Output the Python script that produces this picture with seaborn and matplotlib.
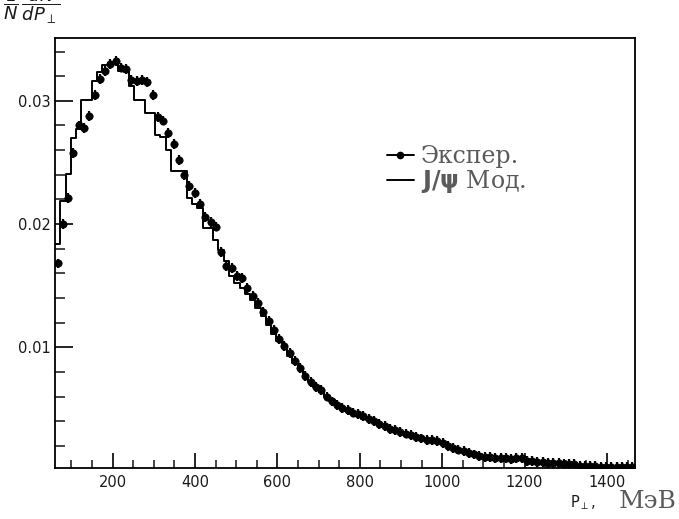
import numpy as np
import pandas as pd
import matplotlib
matplotlib.use("Agg")
import matplotlib.pyplot as plt
import seaborn as sns
from matplotlib.ticker import MultipleLocator, FixedFormatter, FixedLocator
from matplotlib.lines import Line2D

# ---------------- data ----------------
x_lo, x_hi = 60.0, 1468.0
n_bins = 110

exp_values = [
    0.0168, 0.0200, 0.0221, 0.0258, 0.0280, 0.0278, 0.0288, 0.0305, 0.0318, 0.0324,
    0.0330, 0.0332, 0.0327, 0.0326, 0.0317, 0.0316, 0.0317, 0.0315, 0.0305, 0.0287,
    0.0284, 0.0274, 0.0265, 0.0252, 0.0240, 0.0231, 0.0225, 0.0216, 0.0206, 0.0202,
    0.0198, 0.0177, 0.0166, 0.0164, 0.0158, 0.0156, 0.0148, 0.0142, 0.0136, 0.0129,
    0.0121, 0.0114, 0.0107, 0.0101, 0.0095, 0.0089, 0.0083, 0.0077, 0.0072, 0.0068,
    0.0065, 0.0060, 0.0056, 0.0053, 0.0051, 0.0049, 0.0047, 0.0046, 0.0044, 0.0042,
    0.0040, 0.0038, 0.0036, 0.0034, 0.0033, 0.0031, 0.0030, 0.0029, 0.0027, 0.0026,
    0.0025, 0.0025, 0.0024, 0.0022, 0.0020, 0.0018, 0.0017, 0.0016, 0.0014, 0.0013,
    0.0012, 0.0011, 0.0011, 0.0010, 0.0010, 0.0010, 0.0009, 0.0010, 0.0010, 0.0008,
    0.0008, 0.0007, 0.0007, 0.0006, 0.0006, 0.0006, 0.0005, 0.0005, 0.0005, 0.0004,
    0.0004, 0.0004, 0.0004, 0.0003, 0.0003, 0.0003, 0.0003, 0.0003, 0.0003, 0.0003,
]

model_values = [
    0.0184, 0.0219, 0.0241, 0.0270, 0.0277, 0.0301, 0.0301, 0.0316, 0.0323, 0.0329,
    0.0331, 0.0330, 0.0324, 0.0323, 0.0312, 0.0301, 0.0301, 0.0290, 0.0290, 0.0272,
    0.0271, 0.0260, 0.0243, 0.0243, 0.0243, 0.0221, 0.0216, 0.0213, 0.0197, 0.0197,
    0.0187, 0.0179, 0.0170, 0.0158, 0.0152, 0.0148, 0.0143, 0.0138, 0.0132, 0.0125,
    0.0118, 0.0111, 0.0105, 0.0099, 0.0093, 0.0087, 0.0082, 0.0077, 0.0072, 0.0068,
    0.0064, 0.0060, 0.0056, 0.0053, 0.0050, 0.0048, 0.0046, 0.0044, 0.0042, 0.0041,
    0.0039, 0.0037, 0.0035, 0.0034, 0.0032, 0.0031, 0.0029, 0.0028, 0.0027, 0.0026,
    0.0025, 0.0024, 0.0023, 0.0022, 0.0020, 0.0019, 0.0017, 0.0016, 0.0015, 0.0014,
    0.0013, 0.0012, 0.0011, 0.0011, 0.0010, 0.0010, 0.0009, 0.0009, 0.0009, 0.0008,
    0.0008, 0.0007, 0.0007, 0.0006, 0.0006, 0.0006, 0.0005, 0.0005, 0.0005, 0.0004,
    0.0004, 0.0004, 0.0004, 0.0003, 0.0003, 0.0003, 0.0003, 0.0003, 0.0003, 0.0003,
]

exp_yerr = 0.0004
y_ticks = [0.01, 0.02, 0.03]
y_tick_labels = ["0.01", "0.02", "0.03"]
x_ticks = [200, 400, 600, 800, 1000, 1200, 1400]
x_tick_labels = ["200", "400", "600", "800", "1000", "1200", "1400"]
legend_labels = ["Экспер.", r"$\mathbf{J/\psi}$ Мод."]

# ---------------- figure ----------------
sns.set_theme(style="ticks")
plt.rcParams["font.family"] = ["DejaVu Sans"]
plt.rcParams["mathtext.fontset"] = "dejavusans"

bin_w = (x_hi - x_lo) / n_bins
edges = np.linspace(x_lo, x_hi, n_bins + 1)
centers = 0.5 * (edges[:-1] + edges[1:])
half_w = 0.5 * bin_w

df = pd.DataFrame({"p": centers, "exp": exp_values, "model": model_values})

fig = plt.figure(figsize=(6.79, 5.19), dpi=100)
ax = fig.add_axes([55 / 679, 1 - 468 / 519, 580 / 679, 430 / 519])

# model histogram (step)
sns.histplot(data=df, x="p", weights="model", binwidth=bin_w,
             binrange=(x_lo, x_hi), element="step",
             fill=False, color="black", linewidth=1.4, ax=ax)

# experimental points with error bars
ax.errorbar(df["p"], df["exp"], xerr=half_w, yerr=exp_yerr, fmt="none",
            ecolor="black", elinewidth=1.6, capsize=0, zorder=3)
sns.scatterplot(data=df, x="p", y="exp", color="black", s=28, marker="o",
                edgecolor="black", linewidth=0.5, ax=ax, zorder=4)

ax.set_xlim(x_lo, x_hi)
ax.set_ylim(0.0002, 0.0351)
ax.set_xlabel("")
ax.set_ylabel("")

ax.xaxis.set_major_locator(FixedLocator(x_ticks))
ax.xaxis.set_major_formatter(FixedFormatter(x_tick_labels))
ax.xaxis.set_minor_locator(MultipleLocator(50))
ax.yaxis.set_major_locator(FixedLocator(y_ticks))
ax.yaxis.set_major_formatter(FixedFormatter(y_tick_labels))
ax.yaxis.set_minor_locator(MultipleLocator(0.002))

ax.tick_params(axis="both", which="major", direction="in", length=13, width=1.2,
               labelsize=10.5, colors="black")
ax.tick_params(axis="both", which="minor", direction="in", length=7, width=1.2)
ax.tick_params(axis="x", which="major", length=11, pad=5)
ax.tick_params(axis="x", which="minor", length=6)
ax.tick_params(axis="y", which="major", pad=3)
for lab in ax.get_xticklabels() + ax.get_yticklabels():
    lab.set_color("#1a1a1a")
for sp in ax.spines.values():
    sp.set_visible(True)
    sp.set_linewidth(1.3)
    sp.set_color("black")

# legend
handles = [Line2D([0], [0], color="black", lw=1.4, marker="o", markersize=4.5),
           Line2D([0], [0], color="black", lw=1.4)]
leg = ax.legend(handles, legend_labels, loc="upper left",
                bbox_to_anchor=(0.535, 0.80), frameon=False, handlelength=1.15,
                handletextpad=0.3, labelspacing=0.0,
                prop={"family": ["DejaVu Serif"], "size": 17})
for t in leg.get_texts():
    t.set_color("#5a5a5a")

# axis titles
fig.text(0.004, 1 - 6 / 519, r"$\dfrac{1}{N}\,\dfrac{dN}{dP_{\perp}}$",
         fontsize=13, ha="left", va="center", color="#1a1a1a")
fig.text(596 / 679, 1 - 507 / 519, r"P$_{\perp}$,", fontsize=10.5,
         ha="right", va="baseline", color="#1a1a1a")
fig.text(677 / 679, 1 - 508 / 519, "МэВ", fontsize=18, ha="right", va="baseline",
         color="#5a5a5a", family=["DejaVu Serif"])

fig.savefig("out.png", dpi=100)
